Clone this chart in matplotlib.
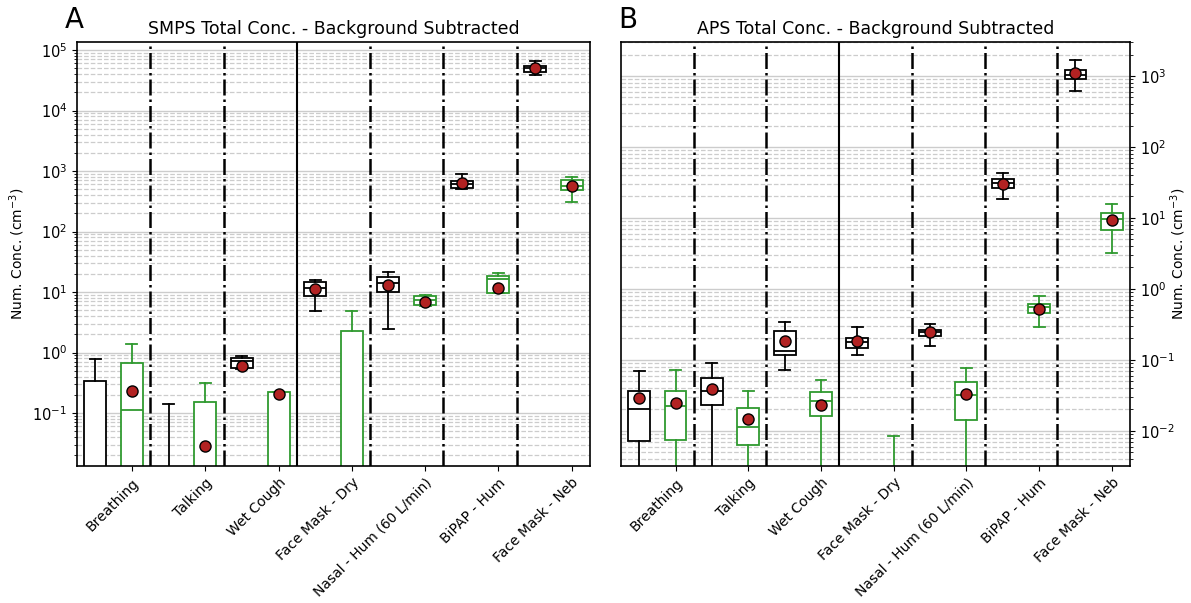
import numpy as np
import matplotlib
matplotlib.use("Agg")
import matplotlib.pyplot as plt

categories = ["Breathing", "Talking", "Wet Cough", "Face Mask - Dry",
              "Nasal - Hum (60 L/min)", "BiPAP - Hum", "Face Mask - Neb"]

# SMPS (panel A), black = first box, green = second box of each group
# values below the axis floor are set to 1e-3 (not visible on the log axis)
smps_k_lo = [1e-3, 1e-3, 0.54, 4.85, 2.44, 500, 38600]
smps_k_q1 = [1e-3, 1e-3, 0.56, 8.7, 9.9, 518, 43700]
smps_k_med = [1e-3, 1e-3, 0.73, 11.8, 14.3, 603, 49800]
smps_k_q3 = [0.34, 1e-3, 0.82, 14.8, 17.9, 684, 55000]
smps_k_hi = [0.77, 0.141, 0.875, 15.8, 21.1, 881, 66500]
smps_k_mean = [np.nan, np.nan, 0.605, 11.1, 13.1, 627, 51000]

smps_g_lo = [1e-3, 1e-3, 1e-3, 1e-3, 5.9, 9.7, 308]
smps_g_q1 = [1e-3, 1e-3, 1e-3, 1e-3, 6.1, 9.7, 479]
smps_g_med = [0.112, 1e-3, 1e-3, 1e-3, 7.4, 16.2, 571]
smps_g_q3 = [0.66, 0.150, 0.225, 2.29, 8.6, 18.6, 702]
smps_g_hi = [1.37, 0.31, 0.225, 4.85, 8.8, 21.0, 787]
smps_g_mean = [0.234, 0.029, 0.206, np.nan, 6.8, 11.8, 571]

# APS (panel B)
aps_k_lo = [1e-4, 1e-4, 0.072, 0.119, 0.159, 18.5, 621]
aps_k_q1 = [0.0072, 0.0235, 0.117, 0.148, 0.22, 26.2, 908]
aps_k_med = [0.0204, 0.036, 0.135, 0.177, 0.245, 31.1, 1043]
aps_k_q3 = [0.037, 0.0557, 0.259, 0.204, 0.267, 35.4, 1228]
aps_k_hi = [0.070, 0.090, 0.34, 0.289, 0.32, 43.0, 1700]
aps_k_mean = [0.0288, 0.039, 0.187, 0.185, 0.245, 30.1, 1102]

aps_g_lo = [1e-4, 1e-4, 1e-4, 1e-4, 1e-4, 0.289, 3.19]
aps_g_q1 = [0.00746, 0.00635, 0.0161, 1e-4, 0.0143, 0.459, 6.8]
aps_g_med = [0.0223, 0.0113, 0.0262, 1e-4, 0.0315, 0.552, 9.7]
aps_g_q3 = [0.0362, 0.0211, 0.0358, 1e-4, 0.0495, 0.615, 11.7]
aps_g_hi = [0.072, 0.037, 0.052, 0.0084, 0.077, 0.79, 15.7]
aps_g_mean = [0.0245, 0.0148, 0.0232, np.nan, 0.0332, 0.522, 9.2]

GREEN = "#2f9a2f"
RED = "#b22222"


def make_stats(lo, q1, med, q3, hi, mean):
    stats = []
    for i in range(len(lo)):
        stats.append({"whislo": lo[i], "q1": q1[i], "med": med[i], "q3": q3[i],
                      "whishi": hi[i], "mean": mean[i], "fliers": []})
    return stats


def draw_panel(ax, black, green, ylim, title):
    n = len(categories)
    pos = np.arange(n)
    for stats, color, off in [(black, "black", 0.25), (green, GREEN, 0.75)]:
        ax.bxp(stats, positions=pos + off, widths=0.3, showmeans=True,
               patch_artist=True, manage_ticks=False,
               boxprops=dict(facecolor="white", edgecolor=color, linewidth=1.3),
               medianprops=dict(color=color, linewidth=1.3),
               whiskerprops=dict(color=color, linewidth=1.3),
               capprops=dict(color=color, linewidth=1.3),
               meanprops=dict(marker="o", markerfacecolor=RED,
                              markeredgecolor="black", markersize=8))
    for b in range(1, n):
        if b == 3:
            ax.axvline(b, color="black", linewidth=1.5)
        else:
            ax.axvline(b, color="black", linewidth=1.8, linestyle="-.")
    ax.set_yscale("log")
    ax.set_ylim(*ylim)
    ax.set_xlim(0, n)
    ax.set_xticks(pos + 0.75)
    ax.set_xticklabels(categories, rotation=45, ha="right", fontsize=10,
                       rotation_mode="anchor")
    ax.grid(True, which="major", axis="y", color="#cccccc", linewidth=1.0)
    ax.grid(True, which="minor", axis="y", color="#cccccc", linewidth=0.9,
            linestyle="--")
    ax.set_axisbelow(True)
    ax.tick_params(axis="y", labelsize=10.5)
    ax.set_title(title, fontsize=12.5)
    for s in ax.spines.values():
        s.set_linewidth(1.2)


fig = plt.figure(figsize=(11.91, 6.03), dpi=100)
ax1 = fig.add_axes([77 / 1191, 1 - 466 / 603, 513 / 1191, 424 / 603])
ax2 = fig.add_axes([621 / 1191, 1 - 466 / 603, 509 / 1191, 424 / 603])

draw_panel(ax1,
           make_stats(smps_k_lo, smps_k_q1, smps_k_med, smps_k_q3, smps_k_hi, smps_k_mean),
           make_stats(smps_g_lo, smps_g_q1, smps_g_med, smps_g_q3, smps_g_hi, smps_g_mean),
           (0.0133, 1.36e5), "SMPS Total Conc. - Background Subtracted")
draw_panel(ax2,
           make_stats(aps_k_lo, aps_k_q1, aps_k_med, aps_k_q3, aps_k_hi, aps_k_mean),
           make_stats(aps_g_lo, aps_g_q1, aps_g_med, aps_g_q3, aps_g_hi, aps_g_mean),
           (0.0032, 3000), "APS Total Conc. - Background Subtracted")

ax1.set_ylabel("Num. Conc. (cm$^{-3}$)", fontsize=10)
ax2.yaxis.tick_right()
ax2.yaxis.set_label_position("right")
ax2.set_ylabel("Num. Conc. (cm$^{-3}$)", fontsize=10)
ax2.yaxis.set_label_coords(1.075, 0.5)

fig.text(65 / 1191, 1 - 20 / 603, "A", fontsize=20, va="center", ha="left")
fig.text(618 / 1191, 1 - 20 / 603, "B", fontsize=20, va="center", ha="left")

fig.savefig("out.png", dpi=100)
